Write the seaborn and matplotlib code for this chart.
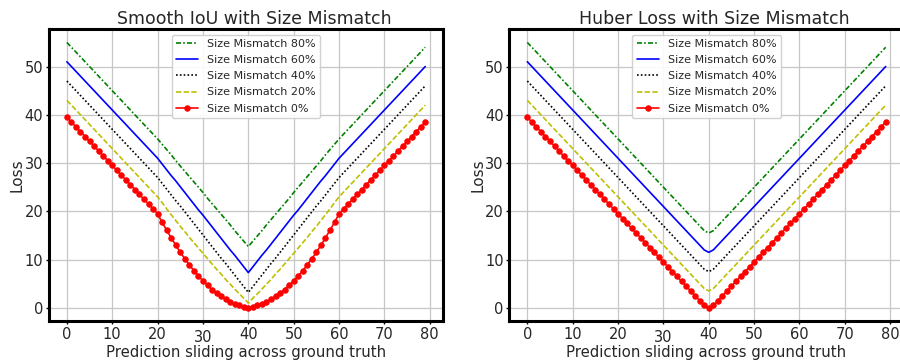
#!/usr/bin/env python3
import numpy as np
import matplotlib
matplotlib.use("Agg")
import matplotlib.pyplot as plt
import matplotlib.transforms as mtransforms
import seaborn as sns

# x positions: prediction sliding across ground truth
shift = list(range(80))

labels = ["Size Mismatch 80%", "Size Mismatch 60%", "Size Mismatch 40%",
          "Size Mismatch 20%", "Size Mismatch 0%"]

# Smooth IoU loss
siou_80 = [55, 54, 53, 52, 51, 50, 49, 48, 47, 46,
           45, 44, 43, 42, 41, 40, 39, 38, 37, 36,
           35.0, 33.9, 32.8, 31.7, 30.5, 29.4, 28.3, 27.2, 26.1, 25.0,
           23.9, 22.7, 21.6, 20.5, 19.4, 18.3, 17.2, 16.0, 14.9, 13.8,
           12.7, 13.8, 14.9, 16.0, 17.2, 18.3, 19.4, 20.5, 21.6, 22.7,
           23.9, 25.0, 26.1, 27.2, 28.3, 29.4, 30.5, 31.7, 32.8, 33.9,
           35.0, 36, 37, 38, 39, 40, 41, 42, 43, 44,
           45, 46, 47, 48, 49, 50, 51, 52, 53, 54]
siou_60 = [51, 50, 49, 48, 47, 46, 45, 44, 43, 42,
           41, 40, 39, 38, 37, 36, 35, 34, 33, 32,
           31.0, 29.8, 28.6, 27.4, 26.3, 25.1, 23.9, 22.7, 21.5, 20.3,
           19.2, 18.0, 16.8, 15.6, 14.4, 13.2, 12.0, 10.9, 9.7, 8.5,
           7.3, 8.5, 9.7, 10.9, 12.0, 13.2, 14.4, 15.6, 16.8, 18.0,
           19.2, 20.3, 21.5, 22.7, 23.9, 25.1, 26.3, 27.4, 28.6, 29.8,
           31.0, 32, 33, 34, 35, 36, 37, 38, 39, 40,
           41, 42, 43, 44, 45, 46, 47, 48, 49, 50]
siou_40 = [47, 46, 45, 44, 43, 42, 41, 40, 39, 38,
           37, 36, 35, 34, 33, 32, 31, 30, 29, 28,
           27.0, 25.8, 24.6, 23.4, 22.2, 21.1, 19.9, 18.7, 17.5, 16.3,
           15.1, 13.9, 12.7, 11.5, 10.3, 9.2, 8.0, 6.8, 5.6, 4.4,
           3.2, 4.4, 5.6, 6.8, 8.0, 9.2, 10.3, 11.5, 12.7, 13.9,
           15.1, 16.3, 17.5, 18.7, 19.9, 21.1, 22.2, 23.4, 24.6, 25.8,
           27.0, 28, 29, 30, 31, 32, 33, 34, 35, 36,
           37, 38, 39, 40, 41, 42, 43, 44, 45, 46]
siou_20 = [43, 42, 41, 40, 39, 38, 37, 36, 35, 34,
           33, 32, 31, 30, 29, 28, 27, 26, 25, 24,
           23.0, 21.8, 20.5, 19.3, 18.1, 16.9, 15.8, 14.6, 13.5, 12.4,
           11.3, 10.2, 9.1, 8.0, 7.0, 5.9, 4.9, 3.9, 2.9, 2.0,
           1.0, 2.0, 2.9, 3.9, 4.9, 5.9, 7.0, 8.0, 9.1, 10.2,
           11.3, 12.4, 13.5, 14.6, 15.8, 16.9, 18.1, 19.3, 20.5, 21.8,
           23.0, 24, 25, 26, 27, 28, 29, 30, 31, 32,
           33, 34, 35, 36, 37, 38, 39, 40, 41, 42]
siou_0 = [39.5, 38.5, 37.5, 36.5, 35.5, 34.5, 33.5, 32.5, 31.5, 30.5,
          29.5, 28.5, 27.5, 26.5, 25.5, 24.5, 23.5, 22.5, 21.5, 20.5,
          19.5, 17.7, 16.1, 14.5, 13.0, 11.5, 10.2, 8.9, 7.7, 6.6,
          5.6, 4.7, 3.8, 3.1, 2.4, 1.8, 1.3, 0.8, 0.5, 0.2,
          0.0, 0.2, 0.5, 0.8, 1.3, 1.8, 2.4, 3.1, 3.8, 4.7,
          5.6, 6.6, 7.7, 8.9, 10.2, 11.5, 13.0, 14.5, 16.1, 17.7,
          19.5, 20.5, 21.5, 22.5, 23.5, 24.5, 25.5, 26.5, 27.5, 28.5,
          29.5, 30.5, 31.5, 32.5, 33.5, 34.5, 35.5, 36.5, 37.5, 38.5]

# Huber loss
huber_80 = [55, 54, 53, 52, 51, 50, 49, 48, 47, 46,
            45, 44, 43, 42, 41, 40, 39, 38, 37, 36,
            35, 34, 33, 32, 31, 30, 29, 28, 27, 26,
            25, 24, 23, 22, 21, 20, 19, 18, 17, 16,
            15.5, 16, 17, 18, 19, 20, 21, 22, 23, 24,
            25, 26, 27, 28, 29, 30, 31, 32, 33, 34,
            35, 36, 37, 38, 39, 40, 41, 42, 43, 44,
            45, 46, 47, 48, 49, 50, 51, 52, 53, 54]
huber_60 = [51, 50, 49, 48, 47, 46, 45, 44, 43, 42,
            41, 40, 39, 38, 37, 36, 35, 34, 33, 32,
            31, 30, 29, 28, 27, 26, 25, 24, 23, 22,
            21, 20, 19, 18, 17, 16, 15, 14, 13, 12,
            11.5, 12, 13, 14, 15, 16, 17, 18, 19, 20,
            21, 22, 23, 24, 25, 26, 27, 28, 29, 30,
            31, 32, 33, 34, 35, 36, 37, 38, 39, 40,
            41, 42, 43, 44, 45, 46, 47, 48, 49, 50]
huber_40 = [47, 46, 45, 44, 43, 42, 41, 40, 39, 38,
            37, 36, 35, 34, 33, 32, 31, 30, 29, 28,
            27, 26, 25, 24, 23, 22, 21, 20, 19, 18,
            17, 16, 15, 14, 13, 12, 11, 10, 9, 8,
            7.5, 8, 9, 10, 11, 12, 13, 14, 15, 16,
            17, 18, 19, 20, 21, 22, 23, 24, 25, 26,
            27, 28, 29, 30, 31, 32, 33, 34, 35, 36,
            37, 38, 39, 40, 41, 42, 43, 44, 45, 46]
huber_20 = [43, 42, 41, 40, 39, 38, 37, 36, 35, 34,
            33, 32, 31, 30, 29, 28, 27, 26, 25, 24,
            23, 22, 21, 20, 19, 18, 17, 16, 15, 14,
            13, 12, 11, 10, 9, 8, 7, 6, 5, 4,
            3.5, 4, 5, 6, 7, 8, 9, 10, 11, 12,
            13, 14, 15, 16, 17, 18, 19, 20, 21, 22,
            23, 24, 25, 26, 27, 28, 29, 30, 31, 32,
            33, 34, 35, 36, 37, 38, 39, 40, 41, 42]
huber_0 = [39.5, 38.5, 37.5, 36.5, 35.5, 34.5, 33.5, 32.5, 31.5, 30.5,
           29.5, 28.5, 27.5, 26.5, 25.5, 24.5, 23.5, 22.5, 21.5, 20.5,
           19.5, 18.5, 17.5, 16.5, 15.5, 14.5, 13.5, 12.5, 11.5, 10.5,
           9.5, 8.5, 7.5, 6.5, 5.5, 4.5, 3.5, 2.5, 1.5, 0.5,
           0.0, 0.5, 1.5, 2.5, 3.5, 4.5, 5.5, 6.5, 7.5, 8.5,
           9.5, 10.5, 11.5, 12.5, 13.5, 14.5, 15.5, 16.5, 17.5, 18.5,
           19.5, 20.5, 21.5, 22.5, 23.5, 24.5, 25.5, 26.5, 27.5, 28.5,
           29.5, 30.5, 31.5, 32.5, 33.5, 34.5, 35.5, 36.5, 37.5, 38.5]

sns.set_style("whitegrid")
plt.rcParams["font.family"] = ["DejaVu Sans"]

# line style per mismatch level: colour, dash pattern, marker
styles = [
    ("g", (0, (3, 1.3, 1, 1.3)), None),
    ("b", "-", None),
    ("k", (0, (1, 1.3)), None),
    ("y", (0, (3.2, 1.4)), None),
    ("r", "-", "."),
]


def draw_panel(ax, series, title):
    for vals, lab, (col, ls, mk) in zip(series, labels, styles):
        kw = {}
        if mk:
            kw = dict(marker=mk, markersize=8, markeredgecolor=col,
                      markerfacecolor=col, markeredgewidth=0.6)
        sns.lineplot(x=shift, y=vals, ax=ax, color=col, linestyle=ls,
                     linewidth=1.2, label=lab, **kw)
    ax.set_title(title, fontsize=12.5, pad=4, x=0.52)
    ax.set_xlabel("Prediction sliding across ground truth", fontsize=10.7, labelpad=0)
    ax.set_ylabel("Loss", fontsize=11, labelpad=0)
    ax.set_xticks(range(0, 81, 10))
    ax.set_yticks(range(0, 51, 10))
    ax.tick_params(axis="both", labelsize=10.5, length=2.5, width=1,
                   color="k", pad=1.5, bottom=True, left=True)
    ax.grid(True, color="0.78", linewidth=0.9)
    for sp in ax.spines.values():
        sp.set_color("k")
        sp.set_linewidth(2.2)
    ax.legend(loc="upper center", fontsize=8, frameon=True,
              edgecolor="0.8", framealpha=0.9, borderpad=0.4,
              labelspacing=0.55)
    # the "30" label sits a little lower in the reference
    lbl = ax.xaxis.get_major_ticks()[3].label1
    off = mtransforms.ScaledTranslation(0, -2.5 / 72, ax.figure.dpi_scale_trans)
    lbl.set_transform(lbl.get_transform() + off)


fig = plt.figure(figsize=(9, 3.6), dpi=100)
ax1 = fig.add_axes([0.0544, 0.108, 0.438, 0.811])
ax2 = fig.add_axes([0.566, 0.108, 0.438, 0.811])

draw_panel(ax1, [siou_80, siou_60, siou_40, siou_20, siou_0],
           "Smooth IoU with Size Mismatch")
draw_panel(ax2, [huber_80, huber_60, huber_40, huber_20, huber_0],
           "Huber Loss with Size Mismatch")

fig.savefig("out.png", dpi=100)
